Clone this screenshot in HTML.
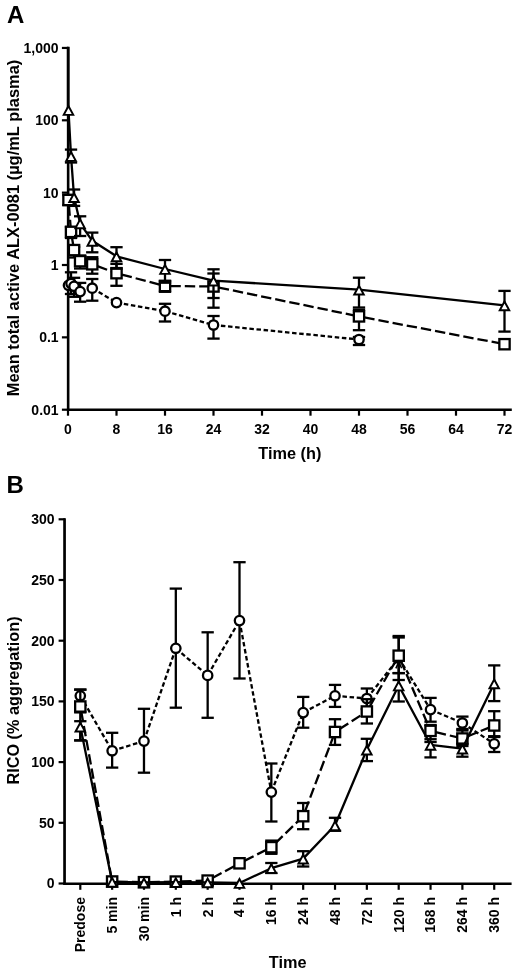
<!DOCTYPE html>
<html><head><meta charset="utf-8"><title>Figure</title>
<style>
html,body{margin:0;padding:0;background:#fff;}
body{width:520px;height:974px;overflow:hidden;}
svg{display:block;filter:grayscale(1);}
text{font-family:"Liberation Sans",sans-serif;font-weight:bold;fill:#000;}
</style></head><body>
<svg width="520" height="974" viewBox="0 0 520 974">
<rect width="520" height="974" fill="#fff"/>
<line x1="68.15" y1="46.85" x2="68.15" y2="410.80" stroke="#000" stroke-width="2.6" />
<line x1="66.90" y1="409.75" x2="511.80" y2="409.75" stroke="#000" stroke-width="2.3" />
<line x1="61.90" y1="409.70" x2="68.00" y2="409.70" stroke="#000" stroke-width="2.2" />
<line x1="61.90" y1="337.35" x2="68.00" y2="337.35" stroke="#000" stroke-width="2.2" />
<line x1="61.90" y1="265.00" x2="68.00" y2="265.00" stroke="#000" stroke-width="2.2" />
<line x1="61.90" y1="192.65" x2="68.00" y2="192.65" stroke="#000" stroke-width="2.2" />
<line x1="61.90" y1="120.30" x2="68.00" y2="120.30" stroke="#000" stroke-width="2.2" />
<line x1="61.90" y1="47.95" x2="68.00" y2="47.95" stroke="#000" stroke-width="2.2" />
<line x1="68.00" y1="409.75" x2="68.00" y2="415.70" stroke="#000" stroke-width="2.2" />
<line x1="116.50" y1="409.75" x2="116.50" y2="415.70" stroke="#000" stroke-width="2.2" />
<line x1="165.00" y1="409.75" x2="165.00" y2="415.70" stroke="#000" stroke-width="2.2" />
<line x1="213.50" y1="409.75" x2="213.50" y2="415.70" stroke="#000" stroke-width="2.2" />
<line x1="262.00" y1="409.75" x2="262.00" y2="415.70" stroke="#000" stroke-width="2.2" />
<line x1="310.50" y1="409.75" x2="310.50" y2="415.70" stroke="#000" stroke-width="2.2" />
<line x1="359.00" y1="409.75" x2="359.00" y2="415.70" stroke="#000" stroke-width="2.2" />
<line x1="407.50" y1="409.75" x2="407.50" y2="415.70" stroke="#000" stroke-width="2.2" />
<line x1="456.00" y1="409.75" x2="456.00" y2="415.70" stroke="#000" stroke-width="2.2" />
<line x1="504.50" y1="409.75" x2="504.50" y2="415.70" stroke="#000" stroke-width="2.2" />
<line x1="68.48" y1="285.30" x2="71.03" y2="283.50" stroke="#000" stroke-width="2.3" stroke-dasharray="4.5 2.65" stroke-dashoffset="-0.3"/>
<line x1="71.03" y1="283.50" x2="74.06" y2="286.30" stroke="#000" stroke-width="2.3" stroke-dasharray="4.5 2.65" stroke-dashoffset="-0.3"/>
<line x1="74.06" y1="286.30" x2="80.12" y2="291.60" stroke="#000" stroke-width="2.3" stroke-dasharray="4.5 2.65" stroke-dashoffset="-0.3"/>
<line x1="80.12" y1="291.60" x2="92.25" y2="288.20" stroke="#000" stroke-width="2.3" stroke-dasharray="4.5 2.65" stroke-dashoffset="-0.3"/>
<line x1="92.25" y1="288.20" x2="116.50" y2="302.60" stroke="#000" stroke-width="2.3" stroke-dasharray="4.5 2.65" stroke-dashoffset="-0.3"/>
<line x1="116.50" y1="302.60" x2="165.00" y2="311.20" stroke="#000" stroke-width="2.3" stroke-dasharray="4.5 2.65" stroke-dashoffset="-0.3"/>
<line x1="165.00" y1="311.20" x2="213.50" y2="325.00" stroke="#000" stroke-width="2.3" stroke-dasharray="4.5 2.65" stroke-dashoffset="-0.3"/>
<line x1="213.50" y1="325.00" x2="359.00" y2="339.50" stroke="#000" stroke-width="2.3" stroke-dasharray="4.5 2.65" stroke-dashoffset="-0.3"/>
<line x1="71.03" y1="272.30" x2="71.03" y2="294.00" stroke="#000" stroke-width="2.3" />
<line x1="64.88" y1="272.30" x2="77.18" y2="272.30" stroke="#000" stroke-width="2.3" />
<line x1="64.88" y1="294.00" x2="77.18" y2="294.00" stroke="#000" stroke-width="2.3" />
<line x1="74.06" y1="277.80" x2="74.06" y2="296.80" stroke="#000" stroke-width="2.3" />
<line x1="67.91" y1="277.80" x2="80.21" y2="277.80" stroke="#000" stroke-width="2.3" />
<line x1="67.91" y1="296.80" x2="80.21" y2="296.80" stroke="#000" stroke-width="2.3" />
<line x1="80.12" y1="282.90" x2="80.12" y2="301.70" stroke="#000" stroke-width="2.3" />
<line x1="73.97" y1="282.90" x2="86.28" y2="282.90" stroke="#000" stroke-width="2.3" />
<line x1="73.97" y1="301.70" x2="86.28" y2="301.70" stroke="#000" stroke-width="2.3" />
<line x1="92.25" y1="279.00" x2="92.25" y2="300.70" stroke="#000" stroke-width="2.3" />
<line x1="86.10" y1="279.00" x2="98.40" y2="279.00" stroke="#000" stroke-width="2.3" />
<line x1="86.10" y1="300.70" x2="98.40" y2="300.70" stroke="#000" stroke-width="2.3" />
<line x1="165.00" y1="303.80" x2="165.00" y2="321.50" stroke="#000" stroke-width="2.3" />
<line x1="158.85" y1="303.80" x2="171.15" y2="303.80" stroke="#000" stroke-width="2.3" />
<line x1="158.85" y1="321.50" x2="171.15" y2="321.50" stroke="#000" stroke-width="2.3" />
<line x1="213.50" y1="316.00" x2="213.50" y2="338.60" stroke="#000" stroke-width="2.3" />
<line x1="207.35" y1="316.00" x2="219.65" y2="316.00" stroke="#000" stroke-width="2.3" />
<line x1="207.35" y1="338.60" x2="219.65" y2="338.60" stroke="#000" stroke-width="2.3" />
<line x1="359.00" y1="337.00" x2="359.00" y2="345.00" stroke="#000" stroke-width="2.3" />
<line x1="352.85" y1="337.00" x2="365.15" y2="337.00" stroke="#000" stroke-width="2.3" />
<line x1="352.85" y1="345.00" x2="365.15" y2="345.00" stroke="#000" stroke-width="2.3" />
<circle cx="68.48" cy="285.30" r="4.7" fill="#fff" stroke="#000" stroke-width="2.3"/>
<circle cx="71.03" cy="283.50" r="4.7" fill="#fff" stroke="#000" stroke-width="2.3"/>
<circle cx="74.06" cy="286.30" r="4.7" fill="#fff" stroke="#000" stroke-width="2.3"/>
<circle cx="80.12" cy="291.60" r="4.7" fill="#fff" stroke="#000" stroke-width="2.3"/>
<circle cx="92.25" cy="288.20" r="4.7" fill="#fff" stroke="#000" stroke-width="2.3"/>
<circle cx="116.50" cy="302.60" r="4.7" fill="#fff" stroke="#000" stroke-width="2.3"/>
<circle cx="165.00" cy="311.20" r="4.7" fill="#fff" stroke="#000" stroke-width="2.3"/>
<circle cx="213.50" cy="325.00" r="4.7" fill="#fff" stroke="#000" stroke-width="2.3"/>
<circle cx="359.00" cy="339.50" r="4.7" fill="#fff" stroke="#000" stroke-width="2.3"/>
<line x1="68.48" y1="200.00" x2="71.03" y2="231.90" stroke="#000" stroke-width="2.3" stroke-dasharray="10.4 4" stroke-dashoffset="-5.4"/>
<line x1="71.03" y1="231.90" x2="74.06" y2="250.10" stroke="#000" stroke-width="2.3" stroke-dasharray="10.4 4" stroke-dashoffset="-5.4"/>
<line x1="74.06" y1="250.10" x2="80.12" y2="261.20" stroke="#000" stroke-width="2.3" stroke-dasharray="10.4 4" stroke-dashoffset="-5.4"/>
<line x1="80.12" y1="261.20" x2="92.25" y2="264.30" stroke="#000" stroke-width="2.3" stroke-dasharray="10.4 4" stroke-dashoffset="-5.4"/>
<line x1="92.25" y1="264.30" x2="116.50" y2="273.20" stroke="#000" stroke-width="2.3" stroke-dasharray="10.4 4" stroke-dashoffset="-5.4"/>
<line x1="116.50" y1="273.20" x2="165.00" y2="286.00" stroke="#000" stroke-width="2.3" stroke-dasharray="10.4 4" stroke-dashoffset="-5.4"/>
<line x1="165.00" y1="286.00" x2="213.50" y2="286.50" stroke="#000" stroke-width="2.3" stroke-dasharray="10.4 4" stroke-dashoffset="-5.4"/>
<line x1="213.50" y1="286.50" x2="359.00" y2="316.40" stroke="#000" stroke-width="2.3" stroke-dasharray="10.4 4" stroke-dashoffset="-5.4"/>
<line x1="359.00" y1="316.40" x2="504.50" y2="344.20" stroke="#000" stroke-width="2.3" stroke-dasharray="10.4 4" stroke-dashoffset="-5.4"/>
<line x1="68.48" y1="195.00" x2="68.48" y2="205.00" stroke="#000" stroke-width="2.3" />
<line x1="62.34" y1="195.00" x2="74.64" y2="195.00" stroke="#000" stroke-width="2.3" />
<line x1="62.34" y1="205.00" x2="74.64" y2="205.00" stroke="#000" stroke-width="2.3" />
<line x1="71.03" y1="227.00" x2="71.03" y2="238.00" stroke="#000" stroke-width="2.3" />
<line x1="64.88" y1="227.00" x2="77.18" y2="227.00" stroke="#000" stroke-width="2.3" />
<line x1="64.88" y1="238.00" x2="77.18" y2="238.00" stroke="#000" stroke-width="2.3" />
<line x1="74.06" y1="246.80" x2="74.06" y2="257.50" stroke="#000" stroke-width="2.3" />
<line x1="67.91" y1="246.80" x2="80.21" y2="246.80" stroke="#000" stroke-width="2.3" />
<line x1="67.91" y1="257.50" x2="80.21" y2="257.50" stroke="#000" stroke-width="2.3" />
<line x1="80.12" y1="255.50" x2="80.12" y2="268.50" stroke="#000" stroke-width="2.3" />
<line x1="73.97" y1="255.50" x2="86.28" y2="255.50" stroke="#000" stroke-width="2.3" />
<line x1="73.97" y1="268.50" x2="86.28" y2="268.50" stroke="#000" stroke-width="2.3" />
<line x1="92.25" y1="257.20" x2="92.25" y2="273.70" stroke="#000" stroke-width="2.3" />
<line x1="86.10" y1="257.20" x2="98.40" y2="257.20" stroke="#000" stroke-width="2.3" />
<line x1="86.10" y1="273.70" x2="98.40" y2="273.70" stroke="#000" stroke-width="2.3" />
<line x1="116.50" y1="263.90" x2="116.50" y2="285.80" stroke="#000" stroke-width="2.3" />
<line x1="110.35" y1="263.90" x2="122.65" y2="263.90" stroke="#000" stroke-width="2.3" />
<line x1="110.35" y1="285.80" x2="122.65" y2="285.80" stroke="#000" stroke-width="2.3" />
<line x1="165.00" y1="281.00" x2="165.00" y2="291.80" stroke="#000" stroke-width="2.3" />
<line x1="158.85" y1="281.00" x2="171.15" y2="281.00" stroke="#000" stroke-width="2.3" />
<line x1="158.85" y1="291.80" x2="171.15" y2="291.80" stroke="#000" stroke-width="2.3" />
<line x1="213.50" y1="273.50" x2="213.50" y2="307.70" stroke="#000" stroke-width="2.3" />
<line x1="207.35" y1="273.50" x2="219.65" y2="273.50" stroke="#000" stroke-width="2.3" />
<line x1="207.35" y1="307.70" x2="219.65" y2="307.70" stroke="#000" stroke-width="2.3" />
<line x1="359.00" y1="309.70" x2="359.00" y2="330.20" stroke="#000" stroke-width="2.3" />
<line x1="352.85" y1="309.70" x2="365.15" y2="309.70" stroke="#000" stroke-width="2.3" />
<line x1="352.85" y1="330.20" x2="365.15" y2="330.20" stroke="#000" stroke-width="2.3" />
<rect x="63.34" y="194.85" width="10.3" height="10.3" fill="#fff" stroke="#000" stroke-width="2.3"/>
<rect x="65.88" y="226.75" width="10.3" height="10.3" fill="#fff" stroke="#000" stroke-width="2.3"/>
<rect x="68.91" y="244.95" width="10.3" height="10.3" fill="#fff" stroke="#000" stroke-width="2.3"/>
<rect x="74.97" y="256.05" width="10.3" height="10.3" fill="#fff" stroke="#000" stroke-width="2.3"/>
<rect x="87.10" y="259.15" width="10.3" height="10.3" fill="#fff" stroke="#000" stroke-width="2.3"/>
<rect x="111.35" y="268.05" width="10.3" height="10.3" fill="#fff" stroke="#000" stroke-width="2.3"/>
<rect x="159.85" y="280.85" width="10.3" height="10.3" fill="#fff" stroke="#000" stroke-width="2.3"/>
<rect x="208.35" y="281.35" width="10.3" height="10.3" fill="#fff" stroke="#000" stroke-width="2.3"/>
<rect x="353.85" y="311.25" width="10.3" height="10.3" fill="#fff" stroke="#000" stroke-width="2.3"/>
<rect x="499.35" y="339.05" width="10.3" height="10.3" fill="#fff" stroke="#000" stroke-width="2.3"/>
<polyline points="68.48,110.00 71.03,156.00 74.06,197.20 80.12,223.30 92.25,240.80 116.50,256.30 165.00,269.00 213.50,280.60 359.00,289.60 504.50,305.40" fill="none" stroke="#000" stroke-width="2.3" stroke-linejoin="round"/>
<line x1="68.15" y1="46.90" x2="68.15" y2="115.00" stroke="#000" stroke-width="2.6" />
<line x1="71.03" y1="149.60" x2="71.03" y2="162.50" stroke="#000" stroke-width="2.3" />
<line x1="64.88" y1="149.60" x2="77.18" y2="149.60" stroke="#000" stroke-width="2.3" />
<line x1="64.88" y1="162.50" x2="77.18" y2="162.50" stroke="#000" stroke-width="2.3" />
<line x1="74.06" y1="189.50" x2="74.06" y2="205.90" stroke="#000" stroke-width="2.3" />
<line x1="67.91" y1="189.50" x2="80.21" y2="189.50" stroke="#000" stroke-width="2.3" />
<line x1="67.91" y1="205.90" x2="80.21" y2="205.90" stroke="#000" stroke-width="2.3" />
<line x1="80.12" y1="216.30" x2="80.12" y2="236.00" stroke="#000" stroke-width="2.3" />
<line x1="73.97" y1="216.30" x2="86.28" y2="216.30" stroke="#000" stroke-width="2.3" />
<line x1="73.97" y1="236.00" x2="86.28" y2="236.00" stroke="#000" stroke-width="2.3" />
<line x1="92.25" y1="232.60" x2="92.25" y2="252.30" stroke="#000" stroke-width="2.3" />
<line x1="86.10" y1="232.60" x2="98.40" y2="232.60" stroke="#000" stroke-width="2.3" />
<line x1="86.10" y1="252.30" x2="98.40" y2="252.30" stroke="#000" stroke-width="2.3" />
<line x1="116.50" y1="247.20" x2="116.50" y2="268.70" stroke="#000" stroke-width="2.3" />
<line x1="110.35" y1="247.20" x2="122.65" y2="247.20" stroke="#000" stroke-width="2.3" />
<line x1="110.35" y1="268.70" x2="122.65" y2="268.70" stroke="#000" stroke-width="2.3" />
<line x1="165.00" y1="260.00" x2="165.00" y2="282.70" stroke="#000" stroke-width="2.3" />
<line x1="158.85" y1="260.00" x2="171.15" y2="260.00" stroke="#000" stroke-width="2.3" />
<line x1="158.85" y1="282.70" x2="171.15" y2="282.70" stroke="#000" stroke-width="2.3" />
<line x1="213.50" y1="269.30" x2="213.50" y2="298.00" stroke="#000" stroke-width="2.3" />
<line x1="207.35" y1="269.30" x2="219.65" y2="269.30" stroke="#000" stroke-width="2.3" />
<line x1="207.35" y1="298.00" x2="219.65" y2="298.00" stroke="#000" stroke-width="2.3" />
<line x1="359.00" y1="277.70" x2="359.00" y2="307.50" stroke="#000" stroke-width="2.3" />
<line x1="352.85" y1="277.70" x2="365.15" y2="277.70" stroke="#000" stroke-width="2.3" />
<line x1="352.85" y1="307.50" x2="365.15" y2="307.50" stroke="#000" stroke-width="2.3" />
<line x1="504.50" y1="290.90" x2="504.50" y2="331.60" stroke="#000" stroke-width="2.3" />
<line x1="498.35" y1="290.90" x2="510.65" y2="290.90" stroke="#000" stroke-width="2.3" />
<line x1="498.35" y1="331.60" x2="510.65" y2="331.60" stroke="#000" stroke-width="2.3" />
<polygon points="68.48,106.08 63.73,114.88 73.23,114.88" fill="#fff" stroke="#000" stroke-width="1.95" stroke-linejoin="miter"/>
<polygon points="71.03,152.08 66.28,160.88 75.78,160.88" fill="#fff" stroke="#000" stroke-width="1.95" stroke-linejoin="miter"/>
<polygon points="74.06,193.28 69.31,202.08 78.81,202.08" fill="#fff" stroke="#000" stroke-width="1.95" stroke-linejoin="miter"/>
<polygon points="80.12,219.38 75.38,228.18 84.88,228.18" fill="#fff" stroke="#000" stroke-width="1.95" stroke-linejoin="miter"/>
<polygon points="92.25,236.88 87.50,245.68 97.00,245.68" fill="#fff" stroke="#000" stroke-width="1.95" stroke-linejoin="miter"/>
<polygon points="116.50,252.38 111.75,261.18 121.25,261.18" fill="#fff" stroke="#000" stroke-width="1.95" stroke-linejoin="miter"/>
<polygon points="165.00,265.08 160.25,273.88 169.75,273.88" fill="#fff" stroke="#000" stroke-width="1.95" stroke-linejoin="miter"/>
<polygon points="213.50,276.68 208.75,285.48 218.25,285.48" fill="#fff" stroke="#000" stroke-width="1.95" stroke-linejoin="miter"/>
<polygon points="359.00,285.68 354.25,294.48 363.75,294.48" fill="#fff" stroke="#000" stroke-width="1.95" stroke-linejoin="miter"/>
<polygon points="504.50,301.48 499.75,310.28 509.25,310.28" fill="#fff" stroke="#000" stroke-width="1.95" stroke-linejoin="miter"/>
<line x1="64.55" y1="518.20" x2="64.55" y2="884.80" stroke="#000" stroke-width="2.7" />
<line x1="63.30" y1="883.70" x2="511.60" y2="883.70" stroke="#000" stroke-width="2.4" />
<line x1="58.60" y1="883.50" x2="65.00" y2="883.50" stroke="#000" stroke-width="2.2" />
<line x1="58.60" y1="822.80" x2="65.00" y2="822.80" stroke="#000" stroke-width="2.2" />
<line x1="58.60" y1="762.10" x2="65.00" y2="762.10" stroke="#000" stroke-width="2.2" />
<line x1="58.60" y1="701.40" x2="65.00" y2="701.40" stroke="#000" stroke-width="2.2" />
<line x1="58.60" y1="640.70" x2="65.00" y2="640.70" stroke="#000" stroke-width="2.2" />
<line x1="58.60" y1="580.00" x2="65.00" y2="580.00" stroke="#000" stroke-width="2.2" />
<line x1="58.60" y1="519.30" x2="65.00" y2="519.30" stroke="#000" stroke-width="2.2" />
<line x1="80.30" y1="883.70" x2="80.30" y2="889.80" stroke="#000" stroke-width="2.2" />
<line x1="112.14" y1="883.70" x2="112.14" y2="889.80" stroke="#000" stroke-width="2.2" />
<line x1="143.98" y1="883.70" x2="143.98" y2="889.80" stroke="#000" stroke-width="2.2" />
<line x1="175.82" y1="883.70" x2="175.82" y2="889.80" stroke="#000" stroke-width="2.2" />
<line x1="207.66" y1="883.70" x2="207.66" y2="889.80" stroke="#000" stroke-width="2.2" />
<line x1="239.50" y1="883.70" x2="239.50" y2="889.80" stroke="#000" stroke-width="2.2" />
<line x1="271.34" y1="883.70" x2="271.34" y2="889.80" stroke="#000" stroke-width="2.2" />
<line x1="303.18" y1="883.70" x2="303.18" y2="889.80" stroke="#000" stroke-width="2.2" />
<line x1="335.02" y1="883.70" x2="335.02" y2="889.80" stroke="#000" stroke-width="2.2" />
<line x1="366.86" y1="883.70" x2="366.86" y2="889.80" stroke="#000" stroke-width="2.2" />
<line x1="398.70" y1="883.70" x2="398.70" y2="889.80" stroke="#000" stroke-width="2.2" />
<line x1="430.54" y1="883.70" x2="430.54" y2="889.80" stroke="#000" stroke-width="2.2" />
<line x1="462.38" y1="883.70" x2="462.38" y2="889.80" stroke="#000" stroke-width="2.2" />
<line x1="494.22" y1="883.70" x2="494.22" y2="889.80" stroke="#000" stroke-width="2.2" />
<line x1="80.30" y1="695.80" x2="112.14" y2="750.80" stroke="#000" stroke-width="2.3" stroke-dasharray="4.5 2.65" stroke-dashoffset="-0.3"/>
<line x1="112.14" y1="750.80" x2="143.98" y2="741.10" stroke="#000" stroke-width="2.3" stroke-dasharray="4.5 2.65" stroke-dashoffset="-0.3"/>
<line x1="143.98" y1="741.10" x2="175.82" y2="648.30" stroke="#000" stroke-width="2.3" stroke-dasharray="4.5 2.65" stroke-dashoffset="-0.3"/>
<line x1="175.82" y1="648.30" x2="207.66" y2="675.40" stroke="#000" stroke-width="2.3" stroke-dasharray="4.5 2.65" stroke-dashoffset="-0.3"/>
<line x1="207.66" y1="675.40" x2="239.50" y2="620.60" stroke="#000" stroke-width="2.3" stroke-dasharray="4.5 2.65" stroke-dashoffset="-0.3"/>
<line x1="239.50" y1="620.60" x2="271.34" y2="792.10" stroke="#000" stroke-width="2.3" stroke-dasharray="4.5 2.65" stroke-dashoffset="-0.3"/>
<line x1="271.34" y1="792.10" x2="303.18" y2="712.60" stroke="#000" stroke-width="2.3" stroke-dasharray="4.5 2.65" stroke-dashoffset="-0.3"/>
<line x1="303.18" y1="712.60" x2="335.02" y2="695.80" stroke="#000" stroke-width="2.3" stroke-dasharray="4.5 2.65" stroke-dashoffset="-0.3"/>
<line x1="335.02" y1="695.80" x2="366.86" y2="698.50" stroke="#000" stroke-width="2.3" stroke-dasharray="4.5 2.65" stroke-dashoffset="-0.3"/>
<line x1="366.86" y1="698.50" x2="398.70" y2="658.00" stroke="#000" stroke-width="2.3" stroke-dasharray="4.5 2.65" stroke-dashoffset="-0.3"/>
<line x1="398.70" y1="658.00" x2="430.54" y2="709.60" stroke="#000" stroke-width="2.3" stroke-dasharray="4.5 2.65" stroke-dashoffset="-0.3"/>
<line x1="430.54" y1="709.60" x2="462.38" y2="723.00" stroke="#000" stroke-width="2.3" stroke-dasharray="4.5 2.65" stroke-dashoffset="-0.3"/>
<line x1="462.38" y1="723.00" x2="494.22" y2="743.80" stroke="#000" stroke-width="2.3" stroke-dasharray="4.5 2.65" stroke-dashoffset="-0.3"/>
<line x1="80.30" y1="689.60" x2="80.30" y2="712.40" stroke="#000" stroke-width="2.3" />
<line x1="74.15" y1="689.60" x2="86.45" y2="689.60" stroke="#000" stroke-width="2.3" />
<line x1="74.15" y1="712.40" x2="86.45" y2="712.40" stroke="#000" stroke-width="2.3" />
<line x1="112.14" y1="732.80" x2="112.14" y2="767.60" stroke="#000" stroke-width="2.3" />
<line x1="105.99" y1="732.80" x2="118.29" y2="732.80" stroke="#000" stroke-width="2.3" />
<line x1="105.99" y1="767.60" x2="118.29" y2="767.60" stroke="#000" stroke-width="2.3" />
<line x1="143.98" y1="708.80" x2="143.98" y2="772.70" stroke="#000" stroke-width="2.3" />
<line x1="137.83" y1="708.80" x2="150.13" y2="708.80" stroke="#000" stroke-width="2.3" />
<line x1="137.83" y1="772.70" x2="150.13" y2="772.70" stroke="#000" stroke-width="2.3" />
<line x1="175.82" y1="588.60" x2="175.82" y2="707.70" stroke="#000" stroke-width="2.3" />
<line x1="169.67" y1="588.60" x2="181.97" y2="588.60" stroke="#000" stroke-width="2.3" />
<line x1="169.67" y1="707.70" x2="181.97" y2="707.70" stroke="#000" stroke-width="2.3" />
<line x1="207.66" y1="632.30" x2="207.66" y2="717.80" stroke="#000" stroke-width="2.3" />
<line x1="201.51" y1="632.30" x2="213.81" y2="632.30" stroke="#000" stroke-width="2.3" />
<line x1="201.51" y1="717.80" x2="213.81" y2="717.80" stroke="#000" stroke-width="2.3" />
<line x1="239.50" y1="562.20" x2="239.50" y2="678.50" stroke="#000" stroke-width="2.3" />
<line x1="233.35" y1="562.20" x2="245.65" y2="562.20" stroke="#000" stroke-width="2.3" />
<line x1="233.35" y1="678.50" x2="245.65" y2="678.50" stroke="#000" stroke-width="2.3" />
<line x1="271.34" y1="763.50" x2="271.34" y2="821.50" stroke="#000" stroke-width="2.3" />
<line x1="265.19" y1="763.50" x2="277.49" y2="763.50" stroke="#000" stroke-width="2.3" />
<line x1="265.19" y1="821.50" x2="277.49" y2="821.50" stroke="#000" stroke-width="2.3" />
<line x1="303.18" y1="696.90" x2="303.18" y2="727.70" stroke="#000" stroke-width="2.3" />
<line x1="297.03" y1="696.90" x2="309.33" y2="696.90" stroke="#000" stroke-width="2.3" />
<line x1="297.03" y1="727.70" x2="309.33" y2="727.70" stroke="#000" stroke-width="2.3" />
<line x1="335.02" y1="684.90" x2="335.02" y2="706.90" stroke="#000" stroke-width="2.3" />
<line x1="328.87" y1="684.90" x2="341.17" y2="684.90" stroke="#000" stroke-width="2.3" />
<line x1="328.87" y1="706.90" x2="341.17" y2="706.90" stroke="#000" stroke-width="2.3" />
<line x1="366.86" y1="688.50" x2="366.86" y2="709.00" stroke="#000" stroke-width="2.3" />
<line x1="360.71" y1="688.50" x2="373.01" y2="688.50" stroke="#000" stroke-width="2.3" />
<line x1="360.71" y1="709.00" x2="373.01" y2="709.00" stroke="#000" stroke-width="2.3" />
<line x1="398.70" y1="636.00" x2="398.70" y2="680.00" stroke="#000" stroke-width="2.3" />
<line x1="392.55" y1="636.00" x2="404.85" y2="636.00" stroke="#000" stroke-width="2.3" />
<line x1="392.55" y1="680.00" x2="404.85" y2="680.00" stroke="#000" stroke-width="2.3" />
<line x1="430.54" y1="697.90" x2="430.54" y2="721.70" stroke="#000" stroke-width="2.3" />
<line x1="424.39" y1="697.90" x2="436.69" y2="697.90" stroke="#000" stroke-width="2.3" />
<line x1="424.39" y1="721.70" x2="436.69" y2="721.70" stroke="#000" stroke-width="2.3" />
<line x1="462.38" y1="716.60" x2="462.38" y2="729.00" stroke="#000" stroke-width="2.3" />
<line x1="456.23" y1="716.60" x2="468.53" y2="716.60" stroke="#000" stroke-width="2.3" />
<line x1="456.23" y1="729.00" x2="468.53" y2="729.00" stroke="#000" stroke-width="2.3" />
<line x1="494.22" y1="737.00" x2="494.22" y2="752.00" stroke="#000" stroke-width="2.3" />
<line x1="488.07" y1="737.00" x2="500.37" y2="737.00" stroke="#000" stroke-width="2.3" />
<line x1="488.07" y1="752.00" x2="500.37" y2="752.00" stroke="#000" stroke-width="2.3" />
<circle cx="80.30" cy="695.80" r="4.7" fill="#fff" stroke="#000" stroke-width="2.3"/>
<circle cx="112.14" cy="750.80" r="4.7" fill="#fff" stroke="#000" stroke-width="2.3"/>
<circle cx="143.98" cy="741.10" r="4.7" fill="#fff" stroke="#000" stroke-width="2.3"/>
<circle cx="175.82" cy="648.30" r="4.7" fill="#fff" stroke="#000" stroke-width="2.3"/>
<circle cx="207.66" cy="675.40" r="4.7" fill="#fff" stroke="#000" stroke-width="2.3"/>
<circle cx="239.50" cy="620.60" r="4.7" fill="#fff" stroke="#000" stroke-width="2.3"/>
<circle cx="271.34" cy="792.10" r="4.7" fill="#fff" stroke="#000" stroke-width="2.3"/>
<circle cx="303.18" cy="712.60" r="4.7" fill="#fff" stroke="#000" stroke-width="2.3"/>
<circle cx="335.02" cy="695.80" r="4.7" fill="#fff" stroke="#000" stroke-width="2.3"/>
<circle cx="366.86" cy="698.50" r="4.7" fill="#fff" stroke="#000" stroke-width="2.3"/>
<circle cx="398.70" cy="658.00" r="4.7" fill="#fff" stroke="#000" stroke-width="2.3"/>
<circle cx="430.54" cy="709.60" r="4.7" fill="#fff" stroke="#000" stroke-width="2.3"/>
<circle cx="462.38" cy="723.00" r="4.7" fill="#fff" stroke="#000" stroke-width="2.3"/>
<circle cx="494.22" cy="743.80" r="4.7" fill="#fff" stroke="#000" stroke-width="2.3"/>
<line x1="80.30" y1="706.50" x2="112.14" y2="881.50" stroke="#000" stroke-width="2.3" stroke-dasharray="10.4 4" stroke-dashoffset="-5.4"/>
<line x1="112.14" y1="881.50" x2="143.98" y2="882.20" stroke="#000" stroke-width="2.3" stroke-dasharray="10.4 4" stroke-dashoffset="-5.4"/>
<line x1="143.98" y1="882.20" x2="175.82" y2="881.60" stroke="#000" stroke-width="2.3" stroke-dasharray="10.4 4" stroke-dashoffset="-5.4"/>
<line x1="175.82" y1="881.60" x2="207.66" y2="880.60" stroke="#000" stroke-width="2.3" stroke-dasharray="10.4 4" stroke-dashoffset="-5.4"/>
<line x1="207.66" y1="880.60" x2="239.50" y2="863.30" stroke="#000" stroke-width="2.3" stroke-dasharray="10.4 4" stroke-dashoffset="-5.4"/>
<line x1="239.50" y1="863.30" x2="271.34" y2="847.20" stroke="#000" stroke-width="2.3" stroke-dasharray="10.4 4" stroke-dashoffset="-5.4"/>
<line x1="271.34" y1="847.20" x2="303.18" y2="816.20" stroke="#000" stroke-width="2.3" stroke-dasharray="10.4 4" stroke-dashoffset="-5.4"/>
<line x1="303.18" y1="816.20" x2="335.02" y2="732.00" stroke="#000" stroke-width="2.3" stroke-dasharray="10.4 4" stroke-dashoffset="-5.4"/>
<line x1="335.02" y1="732.00" x2="366.86" y2="711.50" stroke="#000" stroke-width="2.3" stroke-dasharray="10.4 4" stroke-dashoffset="-5.4"/>
<line x1="366.86" y1="711.50" x2="398.70" y2="655.70" stroke="#000" stroke-width="2.3" stroke-dasharray="10.4 4" stroke-dashoffset="-5.4"/>
<line x1="398.70" y1="655.70" x2="430.54" y2="730.90" stroke="#000" stroke-width="2.3" stroke-dasharray="10.4 4" stroke-dashoffset="-5.4"/>
<line x1="430.54" y1="730.90" x2="462.38" y2="738.50" stroke="#000" stroke-width="2.3" stroke-dasharray="10.4 4" stroke-dashoffset="-5.4"/>
<line x1="462.38" y1="738.50" x2="494.22" y2="725.50" stroke="#000" stroke-width="2.3" stroke-dasharray="10.4 4" stroke-dashoffset="-5.4"/>
<line x1="80.30" y1="689.60" x2="80.30" y2="740.40" stroke="#000" stroke-width="2.3" />
<line x1="74.15" y1="689.60" x2="86.45" y2="689.60" stroke="#000" stroke-width="2.3" />
<line x1="74.15" y1="740.40" x2="86.45" y2="740.40" stroke="#000" stroke-width="2.3" />
<line x1="271.34" y1="840.60" x2="271.34" y2="853.80" stroke="#000" stroke-width="2.3" />
<line x1="265.19" y1="840.60" x2="277.49" y2="840.60" stroke="#000" stroke-width="2.3" />
<line x1="265.19" y1="853.80" x2="277.49" y2="853.80" stroke="#000" stroke-width="2.3" />
<line x1="303.18" y1="803.00" x2="303.18" y2="829.20" stroke="#000" stroke-width="2.3" />
<line x1="297.03" y1="803.00" x2="309.33" y2="803.00" stroke="#000" stroke-width="2.3" />
<line x1="297.03" y1="829.20" x2="309.33" y2="829.20" stroke="#000" stroke-width="2.3" />
<line x1="335.02" y1="719.20" x2="335.02" y2="744.90" stroke="#000" stroke-width="2.3" />
<line x1="328.87" y1="719.20" x2="341.17" y2="719.20" stroke="#000" stroke-width="2.3" />
<line x1="328.87" y1="744.90" x2="341.17" y2="744.90" stroke="#000" stroke-width="2.3" />
<line x1="366.86" y1="699.20" x2="366.86" y2="723.50" stroke="#000" stroke-width="2.3" />
<line x1="360.71" y1="699.20" x2="373.01" y2="699.20" stroke="#000" stroke-width="2.3" />
<line x1="360.71" y1="723.50" x2="373.01" y2="723.50" stroke="#000" stroke-width="2.3" />
<line x1="398.70" y1="637.50" x2="398.70" y2="673.10" stroke="#000" stroke-width="2.3" />
<line x1="392.55" y1="637.50" x2="404.85" y2="637.50" stroke="#000" stroke-width="2.3" />
<line x1="392.55" y1="673.10" x2="404.85" y2="673.10" stroke="#000" stroke-width="2.3" />
<line x1="430.54" y1="725.00" x2="430.54" y2="739.20" stroke="#000" stroke-width="2.3" />
<line x1="424.39" y1="725.00" x2="436.69" y2="725.00" stroke="#000" stroke-width="2.3" />
<line x1="424.39" y1="739.20" x2="436.69" y2="739.20" stroke="#000" stroke-width="2.3" />
<line x1="462.38" y1="730.50" x2="462.38" y2="746.00" stroke="#000" stroke-width="2.3" />
<line x1="456.23" y1="730.50" x2="468.53" y2="730.50" stroke="#000" stroke-width="2.3" />
<line x1="456.23" y1="746.00" x2="468.53" y2="746.00" stroke="#000" stroke-width="2.3" />
<line x1="494.22" y1="711.20" x2="494.22" y2="736.20" stroke="#000" stroke-width="2.3" />
<line x1="488.07" y1="711.20" x2="500.37" y2="711.20" stroke="#000" stroke-width="2.3" />
<line x1="488.07" y1="736.20" x2="500.37" y2="736.20" stroke="#000" stroke-width="2.3" />
<rect x="75.15" y="701.35" width="10.3" height="10.3" fill="#fff" stroke="#000" stroke-width="2.3"/>
<rect x="106.99" y="876.35" width="10.3" height="10.3" fill="#fff" stroke="#000" stroke-width="2.3"/>
<rect x="138.83" y="877.05" width="10.3" height="10.3" fill="#fff" stroke="#000" stroke-width="2.3"/>
<rect x="170.67" y="876.45" width="10.3" height="10.3" fill="#fff" stroke="#000" stroke-width="2.3"/>
<rect x="202.51" y="875.45" width="10.3" height="10.3" fill="#fff" stroke="#000" stroke-width="2.3"/>
<rect x="234.35" y="858.15" width="10.3" height="10.3" fill="#fff" stroke="#000" stroke-width="2.3"/>
<rect x="266.19" y="842.05" width="10.3" height="10.3" fill="#fff" stroke="#000" stroke-width="2.3"/>
<rect x="298.03" y="811.05" width="10.3" height="10.3" fill="#fff" stroke="#000" stroke-width="2.3"/>
<rect x="329.87" y="726.85" width="10.3" height="10.3" fill="#fff" stroke="#000" stroke-width="2.3"/>
<rect x="361.71" y="706.35" width="10.3" height="10.3" fill="#fff" stroke="#000" stroke-width="2.3"/>
<rect x="393.55" y="650.55" width="10.3" height="10.3" fill="#fff" stroke="#000" stroke-width="2.3"/>
<rect x="425.39" y="725.75" width="10.3" height="10.3" fill="#fff" stroke="#000" stroke-width="2.3"/>
<rect x="457.23" y="733.35" width="10.3" height="10.3" fill="#fff" stroke="#000" stroke-width="2.3"/>
<rect x="489.07" y="720.35" width="10.3" height="10.3" fill="#fff" stroke="#000" stroke-width="2.3"/>
<polyline points="80.30,726.60 112.14,881.80 143.98,882.40 175.82,882.20 207.66,882.40 239.50,883.00 271.34,868.20 303.18,858.60 335.02,825.30 366.86,749.60 398.70,685.50 430.54,744.80 462.38,748.60 494.22,683.40" fill="none" stroke="#000" stroke-width="2.3" stroke-linejoin="round"/>
<line x1="80.30" y1="721.20" x2="80.30" y2="740.40" stroke="#000" stroke-width="2.3" />
<line x1="74.15" y1="721.20" x2="86.45" y2="721.20" stroke="#000" stroke-width="2.3" />
<line x1="74.15" y1="740.40" x2="86.45" y2="740.40" stroke="#000" stroke-width="2.3" />
<line x1="271.34" y1="863.00" x2="271.34" y2="873.00" stroke="#000" stroke-width="2.3" />
<line x1="265.19" y1="863.00" x2="277.49" y2="863.00" stroke="#000" stroke-width="2.3" />
<line x1="265.19" y1="873.00" x2="277.49" y2="873.00" stroke="#000" stroke-width="2.3" />
<line x1="303.18" y1="851.20" x2="303.18" y2="866.50" stroke="#000" stroke-width="2.3" />
<line x1="297.03" y1="851.20" x2="309.33" y2="851.20" stroke="#000" stroke-width="2.3" />
<line x1="297.03" y1="866.50" x2="309.33" y2="866.50" stroke="#000" stroke-width="2.3" />
<line x1="335.02" y1="817.80" x2="335.02" y2="830.80" stroke="#000" stroke-width="2.3" />
<line x1="328.87" y1="817.80" x2="341.17" y2="817.80" stroke="#000" stroke-width="2.3" />
<line x1="328.87" y1="830.80" x2="341.17" y2="830.80" stroke="#000" stroke-width="2.3" />
<line x1="366.86" y1="738.80" x2="366.86" y2="761.10" stroke="#000" stroke-width="2.3" />
<line x1="360.71" y1="738.80" x2="373.01" y2="738.80" stroke="#000" stroke-width="2.3" />
<line x1="360.71" y1="761.10" x2="373.01" y2="761.10" stroke="#000" stroke-width="2.3" />
<line x1="398.70" y1="673.10" x2="398.70" y2="701.50" stroke="#000" stroke-width="2.3" />
<line x1="392.55" y1="673.10" x2="404.85" y2="673.10" stroke="#000" stroke-width="2.3" />
<line x1="392.55" y1="701.50" x2="404.85" y2="701.50" stroke="#000" stroke-width="2.3" />
<line x1="430.54" y1="742.00" x2="430.54" y2="757.40" stroke="#000" stroke-width="2.3" />
<line x1="424.39" y1="742.00" x2="436.69" y2="742.00" stroke="#000" stroke-width="2.3" />
<line x1="424.39" y1="757.40" x2="436.69" y2="757.40" stroke="#000" stroke-width="2.3" />
<line x1="462.38" y1="744.00" x2="462.38" y2="756.70" stroke="#000" stroke-width="2.3" />
<line x1="456.23" y1="744.00" x2="468.53" y2="744.00" stroke="#000" stroke-width="2.3" />
<line x1="456.23" y1="756.70" x2="468.53" y2="756.70" stroke="#000" stroke-width="2.3" />
<line x1="494.22" y1="665.40" x2="494.22" y2="701.10" stroke="#000" stroke-width="2.3" />
<line x1="488.07" y1="665.40" x2="500.37" y2="665.40" stroke="#000" stroke-width="2.3" />
<line x1="488.07" y1="701.10" x2="500.37" y2="701.10" stroke="#000" stroke-width="2.3" />
<polygon points="80.30,722.68 75.55,731.48 85.05,731.48" fill="#fff" stroke="#000" stroke-width="1.95" stroke-linejoin="miter"/>
<polygon points="112.14,877.88 107.39,886.68 116.89,886.68" fill="#fff" stroke="#000" stroke-width="1.95" stroke-linejoin="miter"/>
<polygon points="143.98,878.48 139.23,887.28 148.73,887.28" fill="#fff" stroke="#000" stroke-width="1.95" stroke-linejoin="miter"/>
<polygon points="175.82,878.28 171.07,887.08 180.57,887.08" fill="#fff" stroke="#000" stroke-width="1.95" stroke-linejoin="miter"/>
<polygon points="207.66,878.48 202.91,887.28 212.41,887.28" fill="#fff" stroke="#000" stroke-width="1.95" stroke-linejoin="miter"/>
<polygon points="239.50,879.08 234.75,887.88 244.25,887.88" fill="#fff" stroke="#000" stroke-width="1.95" stroke-linejoin="miter"/>
<polygon points="271.34,864.28 266.59,873.08 276.09,873.08" fill="#fff" stroke="#000" stroke-width="1.95" stroke-linejoin="miter"/>
<polygon points="303.18,854.68 298.43,863.48 307.93,863.48" fill="#fff" stroke="#000" stroke-width="1.95" stroke-linejoin="miter"/>
<polygon points="335.02,821.38 330.27,830.18 339.77,830.18" fill="#fff" stroke="#000" stroke-width="1.95" stroke-linejoin="miter"/>
<polygon points="366.86,745.68 362.11,754.48 371.61,754.48" fill="#fff" stroke="#000" stroke-width="1.95" stroke-linejoin="miter"/>
<polygon points="398.70,681.58 393.95,690.38 403.45,690.38" fill="#fff" stroke="#000" stroke-width="1.95" stroke-linejoin="miter"/>
<polygon points="430.54,740.88 425.79,749.68 435.29,749.68" fill="#fff" stroke="#000" stroke-width="1.95" stroke-linejoin="miter"/>
<polygon points="462.38,744.68 457.63,753.48 467.13,753.48" fill="#fff" stroke="#000" stroke-width="1.95" stroke-linejoin="miter"/>
<polygon points="494.22,679.48 489.47,688.28 498.97,688.28" fill="#fff" stroke="#000" stroke-width="1.95" stroke-linejoin="miter"/>
<polyline points="395.9,668.3 398.8,661.8 401.6,668.3" fill="none" stroke="#000" stroke-width="1.6"/>
<text x="7.0" y="22.7" font-size="24" text-anchor="start">A</text>
<text x="6.4" y="493.0" font-size="24" text-anchor="start">B</text>
<text x="58.6" y="414.59999999999997" font-size="14.0" text-anchor="end">0.01</text>
<text x="58.6" y="342.25" font-size="14.0" text-anchor="end">0.1</text>
<text x="58.6" y="269.9" font-size="14.0" text-anchor="end">1</text>
<text x="58.6" y="197.55" font-size="14.0" text-anchor="end">10</text>
<text x="58.6" y="125.20000000000002" font-size="14.0" text-anchor="end">100</text>
<text x="58.6" y="52.84999999999999" font-size="14.0" text-anchor="end">1,000</text>
<text x="68.0" y="433.7" font-size="14.0" text-anchor="middle">0</text>
<text x="116.5" y="433.7" font-size="14.0" text-anchor="middle">8</text>
<text x="165.0" y="433.7" font-size="14.0" text-anchor="middle">16</text>
<text x="213.5" y="433.7" font-size="14.0" text-anchor="middle">24</text>
<text x="262.0" y="433.7" font-size="14.0" text-anchor="middle">32</text>
<text x="310.5" y="433.7" font-size="14.0" text-anchor="middle">40</text>
<text x="359.0" y="433.7" font-size="14.0" text-anchor="middle">48</text>
<text x="407.5" y="433.7" font-size="14.0" text-anchor="middle">56</text>
<text x="456.0" y="433.7" font-size="14.0" text-anchor="middle">64</text>
<text x="504.5" y="433.7" font-size="14.0" text-anchor="middle">72</text>
<text x="289.8" y="459" font-size="16.3" text-anchor="middle">Time (h)</text>
<text x="18.6" y="228.0" font-size="16.45" text-anchor="middle" transform="rotate(-90 18.6 228.0)">Mean total active ALX-0081 (µg/mL plasma)</text>
<text x="54.6" y="888.3" font-size="14.0" text-anchor="end">0</text>
<text x="54.6" y="827.5999999999999" font-size="14.0" text-anchor="end">50</text>
<text x="54.6" y="766.9" font-size="14.0" text-anchor="end">100</text>
<text x="54.6" y="706.1999999999999" font-size="14.0" text-anchor="end">150</text>
<text x="54.6" y="645.5" font-size="14.0" text-anchor="end">200</text>
<text x="54.6" y="584.8" font-size="14.0" text-anchor="end">250</text>
<text x="54.6" y="524.0999999999999" font-size="14.0" text-anchor="end">300</text>
<text x="85.2" y="897.0" font-size="14.0" text-anchor="end" transform="rotate(-90 85.2 897.0)">Predose</text>
<text x="117.04" y="897.0" font-size="14.0" text-anchor="end" transform="rotate(-90 117.04 897.0)">5 min</text>
<text x="148.88" y="897.0" font-size="14.0" text-anchor="end" transform="rotate(-90 148.88 897.0)">30 min</text>
<text x="180.72" y="897.0" font-size="14.0" text-anchor="end" transform="rotate(-90 180.72 897.0)">1 h</text>
<text x="212.56" y="897.0" font-size="14.0" text-anchor="end" transform="rotate(-90 212.56 897.0)">2 h</text>
<text x="244.4" y="897.0" font-size="14.0" text-anchor="end" transform="rotate(-90 244.4 897.0)">4 h</text>
<text x="276.24" y="897.0" font-size="14.0" text-anchor="end" transform="rotate(-90 276.24 897.0)">16 h</text>
<text x="308.08" y="897.0" font-size="14.0" text-anchor="end" transform="rotate(-90 308.08 897.0)">24 h</text>
<text x="339.92" y="897.0" font-size="14.0" text-anchor="end" transform="rotate(-90 339.92 897.0)">48 h</text>
<text x="371.76" y="897.0" font-size="14.0" text-anchor="end" transform="rotate(-90 371.76 897.0)">72 h</text>
<text x="403.6" y="897.0" font-size="14.0" text-anchor="end" transform="rotate(-90 403.6 897.0)">120 h</text>
<text x="435.44" y="897.0" font-size="14.0" text-anchor="end" transform="rotate(-90 435.44 897.0)">168 h</text>
<text x="467.28" y="897.0" font-size="14.0" text-anchor="end" transform="rotate(-90 467.28 897.0)">264 h</text>
<text x="499.12" y="897.0" font-size="14.0" text-anchor="end" transform="rotate(-90 499.12 897.0)">360 h</text>
<text x="287.6" y="967.5" font-size="16.3" text-anchor="middle">Time</text>
<text x="18.8" y="700.5" font-size="16.3" text-anchor="middle" transform="rotate(-90 18.8 700.5)">RICO (% aggregation)</text>
</svg>
</body></html>
